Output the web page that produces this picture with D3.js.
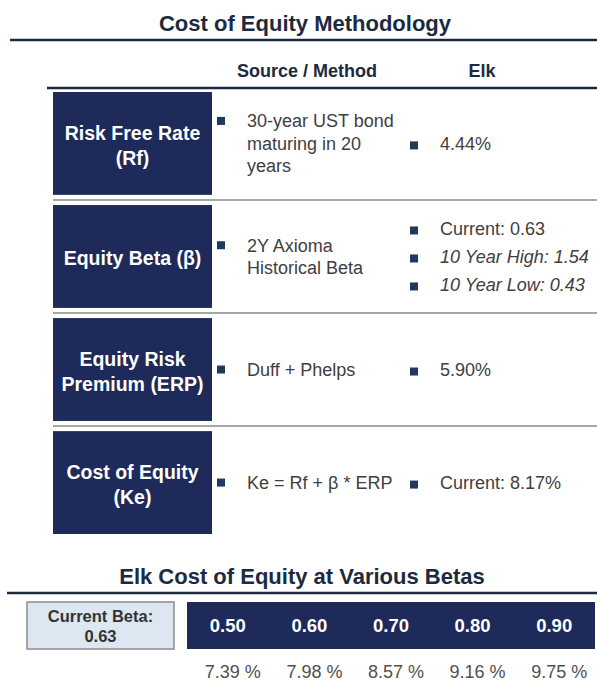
<!DOCTYPE html>
<html>
<head>
<meta charset="utf-8">
<script src="https://cdn.jsdelivr.net/npm/d3@7"></script>
<style>
  body { margin: 0; background: #fff; }
  svg { display: block; font-family: "Liberation Sans", Arial, sans-serif; }
</style>
</head>
<body>
<div id="chart"></div>
<script>
// chart data
const rowLabels = [["Risk Free Rate", "(Rf)"], ["Equity Beta (β)"], ["Equity Risk", "Premium (ERP)"], ["Cost of Equity", "(Ke)"]];
const sourceText = [["30-year UST bond", "maturing in 20", "years"], ["2Y Axioma", "Historical Beta"], ["Duff + Phelps"], ["Ke = Rf + β * ERP"]];
const elkText = [["4.44%"], ["Current: 0.63", "10 Year High: 1.54", "10 Year Low: 0.43"], ["5.90%"], ["Current: 8.17%"]];
const italicItems = ["10 Year High: 1.54", "10 Year Low: 0.43"];
const betas = ["0.50", "0.60", "0.70", "0.80", "0.90"];
const betaCosts = [7.39, 7.98, 8.57, 9.16, 9.75];
const currentBeta = "0.63";

const width = 597, height = 681;
const navy = "#1d2a5a", dark = "#1c2a40", grey = "#404040", bulletCol = "#1f3a5c";

const svg = d3.select("#chart").append("svg")
  .attr("width", width).attr("height", height);

// top title
svg.append("text").attr("x", 305).attr("y", 31).attr("text-anchor", "middle")
  .attr("font-size", 22).attr("font-weight", "bold").attr("fill", dark)
  .text("Cost of Equity Methodology");
svg.append("line").attr("x1", 10).attr("x2", width).attr("y1", 40).attr("y2", 40)
  .attr("stroke", dark).attr("stroke-width", 2.5);

// column headers
const cols = { source: 307, elk: 482 };
svg.append("text").attr("x", cols.source).attr("y", 77).attr("text-anchor", "middle")
  .attr("font-size", 18).attr("font-weight", "bold").attr("fill", dark).text("Source / Method");
svg.append("text").attr("x", cols.elk).attr("y", 77).attr("text-anchor", "middle")
  .attr("font-size", 18).attr("font-weight", "bold").attr("fill", dark).text("Elk");
svg.append("line").attr("x1", 47).attr("x2", width).attr("y1", 88).attr("y2", 88)
  .attr("stroke", dark).attr("stroke-width", 2.5);

const y = d3.scaleBand().domain(d3.range(rowLabels.length)).range([92, 534]).paddingInner(0.09);
const bw = y.bandwidth();

const rows = svg.selectAll("g.row").data(rowLabels).join("g")
  .attr("class", "row")
  .attr("transform", (d, i) => `translate(0,${y(i)})`);

rows.append("rect").attr("x", 53).attr("width", 159).attr("height", bw).attr("fill", navy);

rows.each(function(lines, i) {
  const g = d3.select(this);
  const mid = bw / 2;
  // label
  lines.forEach((t, j) => {
    g.append("text").attr("x", 132.5)
      .attr("y", mid + (j - (lines.length - 1) / 2) * 25 + 9)
      .attr("text-anchor", "middle").attr("font-size", 19.5).attr("font-weight", "bold")
      .attr("fill", "#fff").text(t);
  });
  // source column
  const src = sourceText[i];
  src.forEach((t, j) => {
    g.append("text").attr("x", 247)
      .attr("y", mid + (j - (src.length - 1) / 2) * 22.5 + 6.5)
      .attr("font-size", 18).attr("fill", grey).text(t);
  });
  g.append("rect").attr("x", 217).attr("y", mid - (src.length - 1) / 2 * 22.5 - 4)
    .attr("width", 8).attr("height", 8).attr("fill", bulletCol);
  // elk column
  const elk = elkText[i];
  elk.forEach((t, j) => {
    const yy = mid + (j - (elk.length - 1) / 2) * 28;
    g.append("text").attr("x", 440).attr("y", yy + 6.5)
      .attr("font-size", 18).attr("fill", grey)
      .attr("font-style", italicItems.includes(t) ? "italic" : "normal").text(t);
    g.append("rect").attr("x", 410).attr("y", yy - 2).attr("width", 8).attr("height", 8)
      .attr("fill", bulletCol);
  });
  // separator
  if (i < rowLabels.length - 1) {
    g.append("line").attr("x1", 53).attr("x2", width)
      .attr("y1", bw + (y.step() - bw) / 2).attr("y2", bw + (y.step() - bw) / 2)
      .attr("stroke", "#8a8a8a").attr("stroke-width", 1.5);
  }
});

// bottom section
svg.append("text").attr("x", 302).attr("y", 584).attr("text-anchor", "middle")
  .attr("font-size", 22).attr("font-weight", "bold").attr("fill", dark)
  .text("Elk Cost of Equity at Various Betas");
svg.append("line").attr("x1", 7).attr("x2", width).attr("y1", 593).attr("y2", 593)
  .attr("stroke", dark).attr("stroke-width", 2.5);

svg.append("rect").attr("x", 27).attr("y", 602).attr("width", 147).attr("height", 47)
  .attr("fill", "#dde7f1").attr("stroke", "#8c8c8c").attr("stroke-width", 1.5);
svg.append("text").attr("x", 100.5).attr("y", 622).attr("text-anchor", "middle")
  .attr("font-size", 16.5).attr("font-weight", "bold").attr("fill", "#333").text("Current Beta:");
svg.append("text").attr("x", 100.5).attr("y", 642).attr("text-anchor", "middle")
  .attr("font-size", 16.5).attr("font-weight", "bold").attr("fill", "#333").text(currentBeta);

const x = d3.scaleBand().domain(betas).range([187, 595]);
svg.append("rect").attr("x", 187).attr("y", 602).attr("width", 408).attr("height", 47).attr("fill", navy);

svg.selectAll("text.beta").data(betas).join("text").attr("class", "beta")
  .attr("x", d => x(d) + x.bandwidth() / 2).attr("y", 632).attr("text-anchor", "middle")
  .attr("font-size", 18.5).attr("font-weight", "bold").attr("fill", "#fff").text(d => d);

svg.selectAll("text.cost").data(betaCosts).join("text").attr("class", "cost")
  .attr("x", (d, i) => x(betas[i]) + x.bandwidth() / 2 + 5).attr("y", 678).attr("text-anchor", "middle")
  .attr("font-size", 18).attr("fill", "#505050").text(d => d.toFixed(2) + " %");
</script>
</body>
</html>
